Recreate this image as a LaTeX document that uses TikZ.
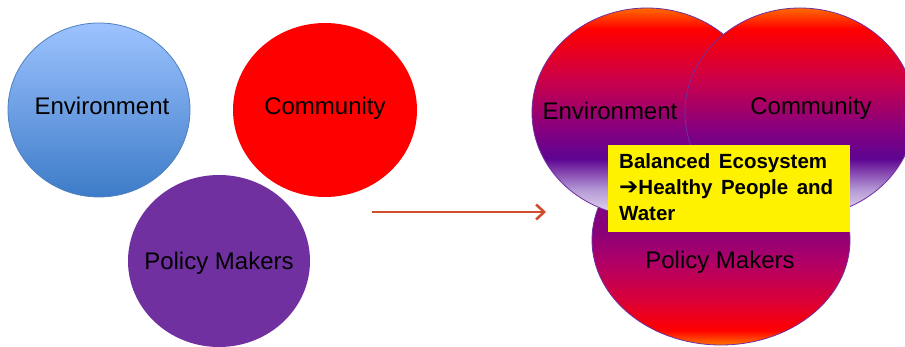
\documentclass[tikz,border=0pt]{standalone}
\usepackage{fontspec}
\setmainfont{Liberation Sans}
\newfontfamily\arrowfont{DejaVu Sans}
\usetikzlibrary{shapes.geometric,arrows.meta}
\definecolor{blueT}{HTML}{9DC3FF}
\definecolor{blueB}{HTML}{3D7BC8}
\definecolor{blueEdge}{HTML}{4F81BD}
\definecolor{polP}{HTML}{7030A0}
\definecolor{lav}{HTML}{EAE0F2}
\definecolor{lavB}{HTML}{B59AD6}
\definecolor{indig}{HTML}{5E0491}
\definecolor{purp}{HTML}{860080}
\definecolor{crim}{HTML}{CC0048}
\definecolor{redR}{HTML}{FF0000}
\definecolor{orng}{HTML}{FF6A00}
\definecolor{orngB}{HTML}{FF7400}
\definecolor{crimB}{HTML}{D8003A}
\definecolor{magB}{HTML}{B00068}
\definecolor{purB}{HTML}{8A0078}
\definecolor{purTop}{HTML}{6A0090}
\definecolor{arrowC}{HTML}{D04E2C}
\pgfdeclareverticalshading{bluegrad}{100bp}{color(0bp)=(blueB); color(25bp)=(blueB); color(75bp)=(blueT); color(100bp)=(blueT)}
\pgfdeclareverticalshading{topgrad}{100bp}{color(0bp)=(lav); color(25bp)=(lav); color(31.5bp)=(lavB); color(39bp)=(indig); color(46bp)=(purp); color(58bp)=(crim); color(70bp)=(redR); color(75bp)=(orng); color(100bp)=(orng)}
\pgfdeclareverticalshading{botgrad}{100bp}{color(0bp)=(orngB); color(25bp)=(orngB); color(28.5bp)=(redR); color(36bp)=(crimB); color(45bp)=(magB); color(52bp)=(purB); color(75bp)=(purTop); color(100bp)=(purTop)}
\tikzset{
  blob/.style={ellipse, inner sep=0pt, outer sep=0pt},
  lbl/.style={anchor=base, inner sep=0pt, text=black, font=\fontsize{24}{28}\selectfont},
  btxt/.style={anchor=base west, inner sep=0pt, text=black, font=\fontsize{20.5}{24}\selectfont\bfseries},
  arrowline/.style={draw=arrowC, line width=2.6pt, -{Straight Barb[length=8pt,width=15pt,line width=2.6pt]}},
}
\begin{document}
\begin{tikzpicture}[x=1pt,y=-1pt]
\useasboundingbox (0,0) rectangle (905,347);
% left group
\node[blob, draw=blueEdge, line width=0.8pt, shading=bluegrad, minimum width=182pt, minimum height=174pt] (envL) at (99,110) {};
\node[blob, fill=redR, minimum width=184pt, minimum height=174pt] (comL) at (325,110) {};
\node[blob, fill=polP, minimum width=182pt, minimum height=172pt] (polL) at (219,261) {};
\node[lbl] (envLt) at (102,115) {Environment};
\node[lbl] (comLt) at (325,115) {Community};
\node[lbl] (polLt) at (219,270) {Policy Makers};
% arrow
\coordinate (a1) at (372,212);
\coordinate (a2) at (546,212);
\draw[arrowline] (a1) -- (a2);
% right group
\node[blob, draw=polP, line width=0.8pt, shading=botgrad, minimum width=258pt, minimum height=210pt] (polR) at (721,240) {};
\node[blob, draw=polP, line width=0.8pt, shading=topgrad, minimum width=230pt, minimum height=209pt] (envR) at (647,112.5) {};
\node[blob, draw=polP, line width=0.8pt, shading=topgrad, minimum width=230pt, minimum height=209pt] (comR) at (800,112.5) {};
\node[lbl] (envRt) at (610,120) {Environment};
\node[lbl] (comRt) at (811,115) {Community};
\node[lbl] (polRt) at (720,269) {Policy Makers};
% yellow box
\node[fill=yellow, inner sep=0pt, minimum width=242pt, minimum height=87pt, anchor=north west] (box) at (608,145) {};
\node[btxt] (b1) at (619,169) {\makebox[208pt][s]{Balanced Ecosystem}};
\node[btxt] (b2) at (619,195) {\makebox[214pt][s]{{\arrowfont\bfseries\fontsize{23}{24}\selectfont ➔}Healthy People and}};
\node[btxt] (b3) at (619,221) {Water};
\end{tikzpicture}
\end{document}
